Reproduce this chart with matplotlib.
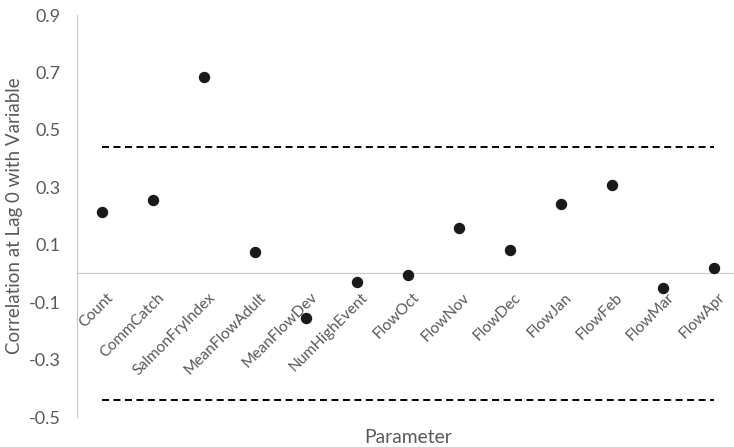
import numpy as np
import matplotlib.pyplot as plt
from matplotlib.transforms import ScaledTranslation

# Parameters and their lag-0 correlation
params = ["Count", "CommCatch", "SalmonFryIndex", "MeanFlowAdult", "MeanFlowDev",
          "NumHighEvent", "FlowOct", "FlowNov", "FlowDec", "FlowJan", "FlowFeb",
          "FlowMar", "FlowApr"]
corr = [0.215, 0.255, 0.683, 0.076, -0.156, -0.031, -0.005, 0.159, 0.081,
        0.242, 0.308, -0.050, 0.018]
upper_bound = [0.44] * len(params)
lower_bound = [-0.44] * len(params)
y_ticks = [-0.5, -0.3, -0.1, 0.1, 0.3, 0.5, 0.7, 0.9]

text_col = "#595959"
plt.rcParams['font.family'] = ['Lato', 'DejaVu Sans']

fig = plt.figure(figsize=(7.34, 4.47), dpi=100)
W, H = 734, 447
ax = fig.add_axes([77 / W, (H - 417) / H, (739 - 77) / W, (417 - 15) / H])

x = np.arange(len(params))
ax.plot(x, upper_bound, color="black", lw=1.4, dashes=(3.6, 2.3))
ax.plot(x, lower_bound, color="black", lw=1.4, dashes=(3.6, 2.3))
ax.plot(x, corr, "o", color="#1a1a1a", markersize=7.2, zorder=3)

ax.set_xlim(-0.5, len(params) - 0.5)
ax.set_ylim(-0.5, 0.9)
ax.set_yticks(y_ticks)
ax.set_yticklabels([f"{v:.1f}" for v in y_ticks])

# category axis crosses at zero
ax.spines["bottom"].set_position(("data", 0))
ax.spines["bottom"].set_color("#c8c8c8")
ax.spines["left"].set_color("#c8c8c8")
ax.spines["top"].set_visible(False)
ax.spines["right"].set_visible(False)

ax.set_xticks(x)
ax.set_xticklabels(params, rotation=45, ha="right", va="top",
                   rotation_mode="anchor", fontsize=11.2, color=text_col)
ax.tick_params(axis="x", length=0, pad=12)
shift = ScaledTranslation(4 / 100, 0, fig.dpi_scale_trans)
for lab in ax.get_xticklabels():
    lab.set_transform(lab.get_transform() + shift)
ax.tick_params(axis="y", length=0, pad=12, labelsize=13, labelcolor=text_col)

ax.set_ylabel("Correlation at Lag 0 with Variable", fontsize=13.5, color=text_col,
              labelpad=4)
ax.set_xlabel("Parameter", fontsize=13.9, color=text_col)
ax.xaxis.set_label_coords(0.5, -0.03)

fig.savefig("out.png", dpi=100)
